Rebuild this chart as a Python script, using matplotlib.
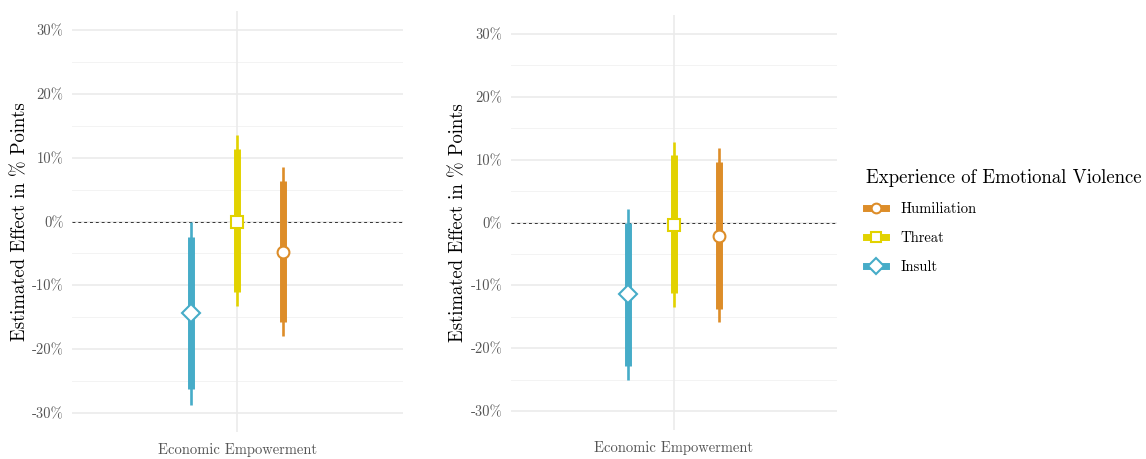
import numpy as np
import matplotlib
matplotlib.use("Agg")
import matplotlib.pyplot as plt
from matplotlib.lines import Line2D

plt.rcParams['font.family'] = ['cmr10', 'DejaVu Serif']
plt.rcParams['axes.formatter.use_mathtext'] = True

# groups, in dodge order (left to right)
groups = ["Insult", "Threat", "Humiliation"]
colors = ["#46ACC8", "#E2D200", "#DD8D29"]
markers = ["D", "s", "o"]

# panel 1 (values in % points)
est_1 = [-14.4, -0.1, -4.8]
ci90_lo_1 = [-26.3, -11.1, -15.8]
ci90_hi_1 = [-2.4, 11.3, 6.3]
ci95_lo_1 = [-28.7, -13.2, -17.9]
ci95_hi_1 = [0.0, 13.6, 8.5]

# panel 2
est_2 = [-11.4, -0.4, -2.1]
ci90_lo_2 = [-22.8, -11.2, -13.7]
ci90_hi_2 = [0.0, 10.7, 9.6]
ci95_lo_2 = [-25.0, -13.5, -15.9]
ci95_hi_2 = [2.2, 12.8, 11.9]

category = "Economic Empowerment"
yticks = [-30, -20, -10, 0, 10, 20, 30]
ytick_labels = ["-30%", "-20%", "-10%", "0%", "10%", "20%", "30%"]

grid_col = "#EBEBEB"
text_col = "#555555"

fig = plt.figure(figsize=(11.46, 4.59), dpi=100)
ax1 = fig.add_axes([0.0628, 0.0588, 0.2888, 0.917])
ax2 = fig.add_axes([0.4456, 0.0632, 0.2845, 0.904])

panels = [
    (ax1, est_1, ci90_lo_1, ci90_hi_1, ci95_lo_1, ci95_hi_1),
    (ax2, est_2, ci90_lo_2, ci90_hi_2, ci95_lo_2, ci95_hi_2),
]

offsets = np.array([-1, 0, 1]) * 0.5 / 3

for ax, est, lo90, hi90, lo95, hi95 in panels:
    for sp in ax.spines.values():
        sp.set_visible(False)
    ax.set_xlim(0.4, 1.6)
    ax.set_ylim(-33, 33)
    # grid: major every 10%, minor in between
    for y in np.arange(-25, 30, 10):
        ax.axhline(y, color="#F3F3F3", lw=0.7, zorder=0)
    for y in yticks:
        ax.axhline(y, color=grid_col, lw=1.2, zorder=0)
    ax.axvline(1, color=grid_col, lw=1.2, zorder=0)
    ax.axhline(0, color="#333333", lw=0.7, ls=(0, (3, 3)), zorder=1)

    for i, g in enumerate(groups):
        x = 1 + offsets[i]
        ax.vlines(x, lo95[i], hi95[i], color=colors[i], lw=1.9, zorder=2)
        ax.vlines(x, lo90[i], hi90[i], color=colors[i], lw=5.0, zorder=3)
        ms = 9 if markers[i] == "D" else 8.5
        ax.plot(x, est[i], marker=markers[i], ms=ms, mfc="white",
                mec=colors[i], mew=1.5, zorder=4)

    ax.set_yticks(yticks)
    ax.set_yticklabels(ytick_labels, color=text_col, fontsize=10.5)
    ax.set_xticks([1])
    ax.set_xticklabels([category], color=text_col, fontsize=10.5)
    ax.tick_params(length=0, pad=6)
    ax.tick_params(axis="x", pad=8)
    ax.set_ylabel("Estimated Effect in % Points", fontsize=13.5, labelpad=2)

handles = []
for i in [2, 1, 0]:
    handles.append(Line2D([0], [0], color=colors[i], lw=5.0, marker=markers[i],
                          ms=7 if markers[i] != "D" else 8, mfc="white",
                          mec=colors[i], mew=1.5))
leg = fig.legend(handles, [groups[i] for i in [2, 1, 0]],
                 title="Experience of Emotional Violence",
                 loc="upper left", bbox_to_anchor=(0.744, 0.66),
                 frameon=False, fontsize=10.5, title_fontsize=13.5,
                 handlelength=1.4, handletextpad=1.0, labelspacing=1.05)
leg._legend_box.align = "left"

fig.savefig("out.png", dpi=100)
